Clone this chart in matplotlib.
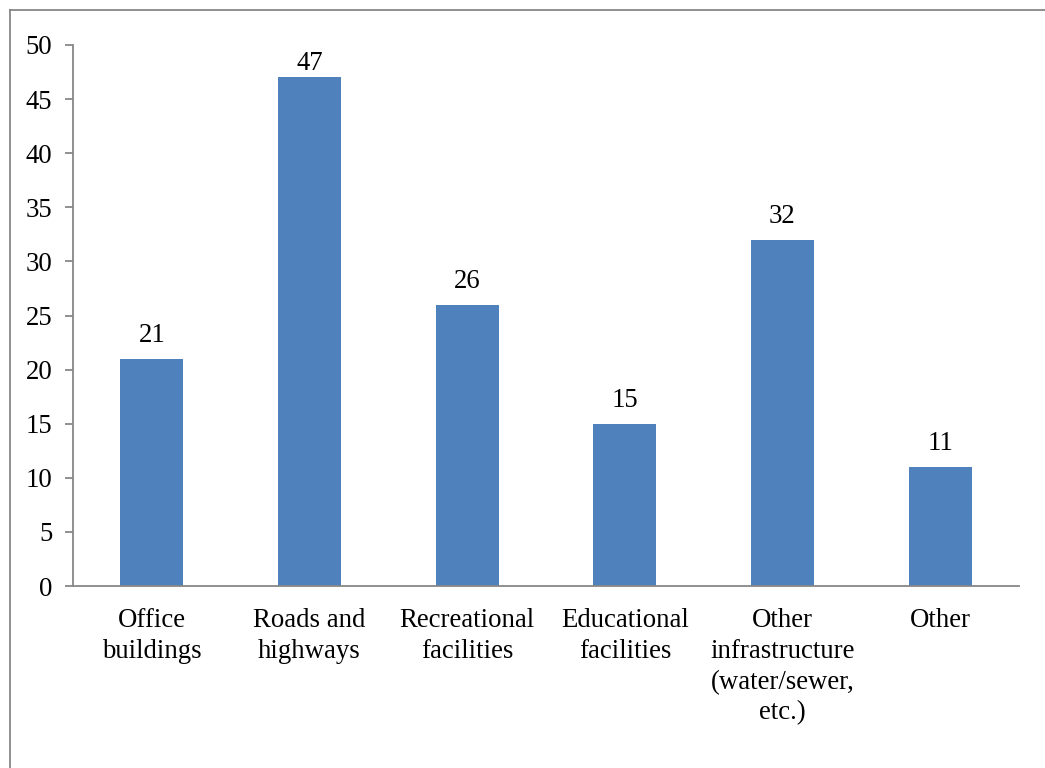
import matplotlib
matplotlib.use("Agg")
import matplotlib.pyplot as plt
from matplotlib.lines import Line2D

categories = ["Office\nbuildings", "Roads and\nhighways", "Recreational\nfacilities",
              "Educational\nfacilities", "Other\ninfrastructure\n(water/sewer,\netc.)", "Other"]
values = [21, 47, 26, 15, 32, 11]
y_ticks = [0, 5, 10, 15, 20, 25, 30, 35, 40, 45, 50]

plt.rcParams['font.family'] = ['Liberation Serif', 'DejaVu Serif']
FS = 19.3

W, H = 1045, 768
fig = plt.figure(figsize=(W / 100, H / 100), dpi=100)
fig.patch.set_facecolor("white")

# chart frame (left and top edges)
frame_col = "#878787"
fig.add_artist(Line2D([10 / W, 10 / W], [0, 1 - 9.5 / H], transform=fig.transFigure,
                      color=frame_col, lw=1.3))
fig.add_artist(Line2D([10 / W, 1], [1 - 9.5 / H, 1 - 9.5 / H], transform=fig.transFigure,
                      color=frame_col, lw=1.3))

ax = fig.add_axes([73 / W, (H - 586) / H, (1019 - 73) / W, (586 - 45) / H])
x = list(range(len(categories)))
ax.bar(x, values, width=0.4, color="#4F81BD", zorder=2)

ax.set_xlim(-0.5, len(categories) - 0.5)
ax.set_ylim(0, 50)

# value labels above bars; a label that would run past the plot top is
# pulled back inside it
labels = []
for xi, v in zip(x, values):
    labels.append(ax.annotate(str(v), (xi, v), xytext=(0, 8), textcoords="offset points",
                              ha="center", va="bottom", fontsize=FS, color="black"))
fig.canvas.draw()
renderer = fig.canvas.get_renderer()
ax_top = ax.get_window_extent(renderer).y1
for lab in labels:
    bb = lab.get_window_extent(renderer)
    limit = ax_top - 6
    if bb.y1 > limit:
        shift_pt = (bb.y1 - limit) * 72 / fig.dpi
        ox, oy = lab.xyann
        lab.xyann = (ox, oy - shift_pt)

ax.set_yticks(y_ticks)
ax.set_yticklabels([str(t) for t in y_ticks], fontsize=FS)
ax.set_xticks(x)
ax.set_xticklabels(categories, fontsize=FS, linespacing=1.3)
ax.tick_params(axis="x", length=0, pad=16)
ax.tick_params(axis="y", length=6, width=1.3, color=frame_col, pad=9)

for side in ("top", "right"):
    ax.spines[side].set_visible(False)
for side in ("left", "bottom"):
    ax.spines[side].set_color(frame_col)
    ax.spines[side].set_linewidth(1.3)

fig.savefig("out.png", dpi=100)
